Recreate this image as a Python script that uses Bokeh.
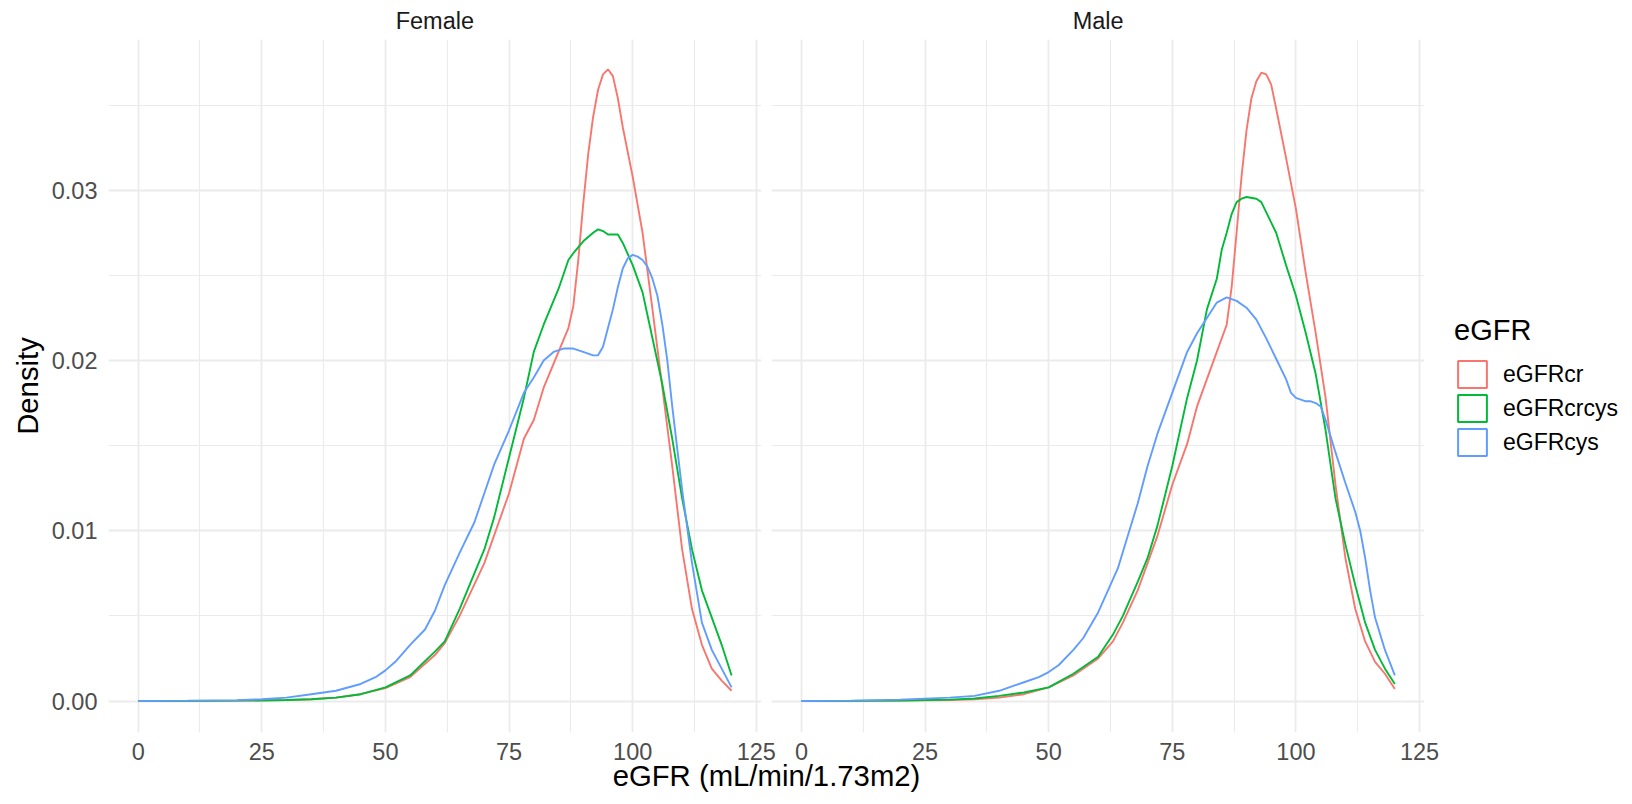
from bokeh.plotting import figure
from bokeh.models import (Range1d, FixedTicker, PrintfTickFormatter, Legend, LegendItem,
                          BoxAnnotation, LinearAxis)
from bokeh.embed import file_html
from bokeh.resources import INLINE

# ---------------- data ----------------
sexes = ["Female", "Male"]
series = ["eGFRcr", "eGFRcrcys", "eGFRcys"]
colors = ["#F8766D", "#00BA38", "#619CFF"]

x_ticks = [0, 25, 50, 75, 100, 125]
x_minor = [12.5, 37.5, 62.5, 87.5, 112.5]
y_ticks = [0.0, 0.01, 0.02, 0.03]
y_minor = [0.005, 0.015, 0.025, 0.035]

f_cr_x = [0, 10, 20, 30, 35, 40, 45, 50, 55, 60, 62, 65, 70, 75, 78, 80, 82, 85, 87, 88, 89, 90, 91,
          92, 93, 94, 95, 96, 97, 98, 100, 102, 104, 106, 108, 110, 112, 114, 116, 118, 120]
f_cr_y = [0.0, 0.00001, 0.00002, 0.00005, 0.0001, 0.0002, 0.0004, 0.00076, 0.0014, 0.0027, 0.0034,
          0.0050, 0.0081, 0.0122, 0.0154, 0.0165, 0.0184, 0.0205, 0.0219, 0.0232, 0.0259, 0.0292,
          0.0321, 0.0343, 0.0359, 0.0368, 0.0371, 0.0367, 0.0354, 0.0337, 0.0308, 0.0275, 0.0230,
          0.0184, 0.0138, 0.0089, 0.0054, 0.0033, 0.0019, 0.0012, 0.0006]

f_crcys_x = [0, 10, 20, 30, 35, 40, 45, 50, 55, 60, 62, 65, 70, 72, 75, 78, 80, 82, 85, 87, 88, 90,
             92, 93, 94, 95, 96, 97, 98, 100, 102, 104, 106, 108, 110, 112, 114, 116, 118, 120]
f_crcys_y = [0.0, 0.00001, 0.00002, 0.00006, 0.0001, 0.0002, 0.0004, 0.0008, 0.0015, 0.0029, 0.0035,
             0.0054, 0.0089, 0.0108, 0.0143, 0.0178, 0.0205, 0.0221, 0.0242, 0.0259, 0.0263, 0.0270,
             0.0275, 0.0277, 0.0276, 0.0274, 0.0274, 0.0274, 0.0269, 0.0256, 0.0240, 0.0213, 0.0186,
             0.0154, 0.0119, 0.0089, 0.0065, 0.0049, 0.0033, 0.0015]

f_cys_x = [0, 10, 20, 25, 30, 35, 40, 45, 48, 50, 52, 55, 58, 60, 62, 65, 68, 70, 72, 75, 78, 80, 82,
           84, 86, 88, 90, 92, 93, 94, 95, 96, 97, 98, 99, 100, 101, 102, 103, 104, 105, 106, 107, 108,
           110, 112, 114, 116, 118, 120]
f_cys_y = [0.0, 0.00002, 0.00005, 0.0001, 0.0002, 0.0004, 0.0006, 0.0010, 0.0014, 0.0018, 0.0023,
           0.0033, 0.0042, 0.0053, 0.0068, 0.0087, 0.0105, 0.0122, 0.0139, 0.0159, 0.0181, 0.0190,
           0.0200, 0.0205, 0.0207, 0.0207, 0.0205, 0.0203, 0.0203, 0.0208, 0.0219, 0.0230, 0.0243,
           0.0254, 0.0260, 0.0262, 0.0261, 0.0259, 0.0255, 0.0248, 0.0238, 0.0221, 0.0200, 0.0173,
           0.0124, 0.0081, 0.0046, 0.0030, 0.0019, 0.0008]

m_cr_x = [0, 10, 20, 30, 35, 40, 45, 50, 55, 60, 63, 65, 68, 70, 72, 75, 78, 80, 82, 84, 86, 87, 88,
          89, 90, 91, 92, 93, 94, 95, 96, 98, 100, 102, 104, 106, 108, 110, 112, 114, 116, 118, 120]
m_cr_y = [0.0, 0.00001, 0.00002, 0.00005, 0.0001, 0.0002, 0.0004, 0.0008, 0.0015, 0.0025, 0.0035,
          0.0046, 0.0065, 0.0081, 0.0097, 0.0127, 0.0151, 0.0173, 0.0189, 0.0205, 0.0221, 0.0243,
          0.0275, 0.0308, 0.0335, 0.0354, 0.0364, 0.0369, 0.0368, 0.0362, 0.0348, 0.0319, 0.0289,
          0.0251, 0.0216, 0.0178, 0.0127, 0.0084, 0.0054, 0.0035, 0.0023, 0.0016, 0.0007]

m_crcys_x = [0, 10, 20, 30, 35, 40, 45, 50, 55, 60, 63, 65, 68, 70, 72, 75, 78, 80, 82, 84, 85, 86,
             87, 88, 89, 90, 92, 93, 94, 96, 98, 100, 102, 104, 106, 108, 110, 112, 114, 116, 118, 120]
m_crcys_y = [0.0, 0.00001, 0.00003, 0.00008, 0.00015, 0.0003, 0.0005, 0.0008, 0.0016, 0.0026, 0.0039,
             0.0050, 0.0070, 0.0084, 0.0103, 0.0138, 0.0178, 0.0200, 0.0230, 0.0248, 0.0265, 0.0275,
             0.0286, 0.0293, 0.0295, 0.0296, 0.0295, 0.0293, 0.0287, 0.0275, 0.0256, 0.0238, 0.0216,
             0.0192, 0.0159, 0.0119, 0.0092, 0.0068, 0.0046, 0.0030, 0.0019, 0.0010]

m_cys_x = [0, 10, 20, 30, 35, 40, 42, 45, 48, 50, 52, 55, 57, 60, 62, 64, 66, 68, 70, 72, 74, 76, 78,
           80, 82, 84, 86, 88, 90, 92, 94, 96, 98, 99, 100, 102, 103, 104, 105, 106, 108, 110, 112,
           113, 114, 115, 116, 118, 120]
m_cys_y = [0.0, 0.00002, 0.00008, 0.0002, 0.0003, 0.0006, 0.0008, 0.0011, 0.0014, 0.0017, 0.0021,
           0.0030, 0.0037, 0.0052, 0.0065, 0.0078, 0.0097, 0.0116, 0.0138, 0.0157, 0.0173, 0.0189,
           0.0205, 0.0216, 0.0225, 0.0234, 0.0237, 0.0235, 0.0231, 0.0224, 0.0213, 0.0201, 0.0189,
           0.0181, 0.0178, 0.0176, 0.0176, 0.0175, 0.0173, 0.0165, 0.0146, 0.0128, 0.0111, 0.0100,
           0.0084, 0.0065, 0.0049, 0.0030, 0.0015]

curves = {
    "Female": [(f_cr_x, f_cr_y), (f_crcys_x, f_crcys_y), (f_cys_x, f_cys_y)],
    "Male": [(m_cr_x, m_cr_y), (m_crcys_x, m_crcys_y), (m_cys_x, m_cys_y)],
}

# ---------------- layout geometry ----------------
FONT = "Liberation Sans"
PANEL = (-6.0, 126.0)            # each facet's x range (ggplot 5% expansion)
SPAN = PANEL[1] - PANEL[0]
FRAME_W, FRAME_H = 1316, 693
GAP_PX = 10.5
k = (FRAME_W - GAP_PX) / (2 * SPAN)          # px per data unit
off = SPAN + GAP_PX / k                       # shift of male facet in the main range

p = figure(width=1632, height=804, output_backend="svg", toolbar_location=None,
           x_range=Range1d(PANEL[0], PANEL[0] + FRAME_W / k),
           y_range=Range1d(-0.00185, 0.03885),
           min_border_left=108, min_border_right=208, min_border_top=39, min_border_bottom=72,
           frame_width=FRAME_W, frame_height=FRAME_H)
p.extra_x_ranges = {"male": Range1d(PANEL[1] - FRAME_W / k, PANEL[1])}
p.outline_line_color = None
p.background_fill_color = "white"
p.border_fill_color = "white"

xax = p.below[0]
yax = p.left[0]

# strip labels as a top axis with one tick per facet centre
mid = (PANEL[0] + PANEL[1]) / 2
strip_axis = LinearAxis(ticker=FixedTicker(ticks=[mid, mid + off]),
                        major_label_overrides={mid: sexes[0], mid + off: sexes[1]})
p.add_layout(strip_axis, "above")

# shared bottom axis carrying both facets' ticks
xt_major = x_ticks + [t + off for t in x_ticks]
xt_minor = x_minor + [t + off for t in x_minor]
xax.ticker = FixedTicker(ticks=xt_major, minor_ticks=xt_minor)
xax.major_label_overrides = {**{t: str(t) for t in x_ticks},
                             **{t + off: str(t) for t in x_ticks}}
yax.ticker = FixedTicker(ticks=y_ticks, minor_ticks=y_minor)
yax.formatter = PrintfTickFormatter(format="%.2f")

for ax in (xax, yax, strip_axis):
    ax.axis_line_color = None
    ax.major_tick_line_color = None
    ax.minor_tick_line_color = None
    ax.major_tick_out = 0
    ax.major_tick_in = 0
    ax.minor_tick_out = 0
    ax.minor_tick_in = 0
    ax.major_label_text_font = FONT
    ax.major_label_text_font_size = "23.5px"
    ax.major_label_text_color = "#4D4D4D"
    ax.axis_label_text_font = FONT
    ax.axis_label_text_font_size = "29.3px"
    ax.axis_label_text_font_style = "normal"
    ax.axis_label_text_color = "black"

strip_axis.major_label_text_color = "#1A1A1A"
strip_axis.major_label_standoff = 6

xax.axis_label = "eGFR (mL/min/1.73m2)"
xax.major_label_standoff = 10
xax.axis_label_standoff = -4
yax.axis_label = "Density"
yax.major_label_standoff = 11
yax.axis_label_standoff = 5

for g in (p.xgrid[0], p.ygrid[0]):
    g.grid_line_color = "#EBEBEB"
    g.grid_line_width = 1.8
    g.minor_grid_line_color = "#EBEBEB"
    g.minor_grid_line_width = 1.1

# white strip between the facets (panel spacing)
p.add_layout(BoxAnnotation(left=PANEL[1], right=PANEL[0] + off, fill_color="white",
                           fill_alpha=1, line_color=None, level="underlay"))

# density lines
for sex in sexes:
    rn = "default" if sex == "Female" else "male"
    for (xs, ys), c in zip(curves[sex], colors):
        p.line(xs, ys, line_color=c, line_width=1.9, x_range_name=rn)

# legend keys: outlined boxes (glyph itself lies outside the visible x range)
items = []
for name, c in zip(series, colors):
    r = p.quad(left=[-60], right=[-50], top=[0.01], bottom=[0.0], fill_color="white",
               fill_alpha=0, line_color=c, line_width=2)
    items.append(LegendItem(label=name, renderers=[r]))
legend = Legend(items=items, title="eGFR", location=(30, 272.7),
                title_text_font=FONT, title_text_font_size="29px", title_text_font_style="normal",
                title_text_color="black", title_standoff=10,
                label_text_font=FONT, label_text_font_size="23px", label_text_color="black",
                glyph_width=36, glyph_height=34, label_height=34, spacing=0, label_standoff=13,
                padding=0, margin=0, border_line_alpha=0, background_fill_alpha=0)
p.add_layout(legend, "right")

open("out.html", "w").write(file_html(p, INLINE))
